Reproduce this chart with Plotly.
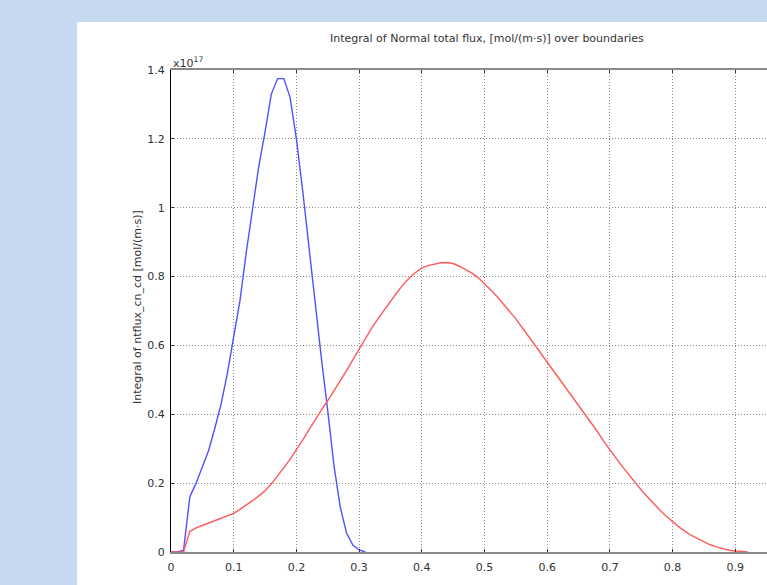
import plotly.graph_objects as go

# ---- data (values in units of 1e17 mol/(m·s)) ----
blue_t = [0.00, 0.01, 0.02, 0.03, 0.04, 0.05, 0.06, 0.07, 0.08, 0.09, 0.10,
          0.11, 0.12, 0.13, 0.14, 0.15, 0.16, 0.17, 0.18, 0.19, 0.20,
          0.21, 0.22, 0.23, 0.24, 0.25, 0.26, 0.27, 0.28, 0.29, 0.30, 0.31]
blue_v = [0.0, 0.0, 0.005, 0.16, 0.20, 0.245, 0.295, 0.36, 0.43, 0.52, 0.62,
          0.73, 0.87, 1.00, 1.12, 1.22, 1.33, 1.375, 1.375, 1.32, 1.20,
          1.05, 0.88, 0.72, 0.56, 0.41, 0.25, 0.13, 0.055, 0.02, 0.006, 0.0]

red_t = [0.00, 0.01, 0.02, 0.03, 0.04, 0.05, 0.06, 0.07, 0.08, 0.09,
         0.10, 0.11, 0.12, 0.13, 0.14, 0.15, 0.16, 0.17, 0.18, 0.19,
         0.20, 0.21, 0.22, 0.23, 0.24, 0.25, 0.26, 0.27, 0.28, 0.29,
         0.30, 0.31, 0.32, 0.33, 0.34, 0.35, 0.36, 0.37, 0.38, 0.39,
         0.40, 0.41, 0.42, 0.43, 0.44, 0.45, 0.46, 0.47, 0.48, 0.49,
         0.50, 0.51, 0.52, 0.53, 0.54, 0.55, 0.56, 0.57, 0.58, 0.59,
         0.60, 0.61, 0.62, 0.63, 0.64, 0.65, 0.66, 0.67, 0.68, 0.69,
         0.70, 0.71, 0.72, 0.73, 0.74, 0.75, 0.76, 0.77, 0.78, 0.79,
         0.80, 0.81, 0.82, 0.83, 0.84, 0.85, 0.86, 0.87, 0.88, 0.89,
         0.90, 0.91, 0.92]
red_v = [0.0, 0.0, 0.0, 0.06, 0.07, 0.077, 0.084, 0.09, 0.097, 0.104,
         0.112, 0.124, 0.136, 0.149, 0.163, 0.178, 0.198, 0.22, 0.245, 0.27,
         0.297, 0.325, 0.355, 0.385, 0.413, 0.44, 0.468, 0.497, 0.527, 0.558,
         0.59, 0.62, 0.65, 0.677, 0.703, 0.728, 0.753, 0.776, 0.796, 0.812,
         0.825, 0.832, 0.837, 0.84, 0.841, 0.838, 0.83, 0.821, 0.81, 0.797,
         0.78, 0.761, 0.742, 0.721, 0.70, 0.677, 0.652, 0.627, 0.602, 0.576,
         0.55, 0.525, 0.499, 0.474, 0.45, 0.425, 0.40, 0.375, 0.35, 0.322,
         0.296, 0.272, 0.248, 0.225, 0.202, 0.18, 0.16, 0.14, 0.121, 0.104,
         0.088, 0.073, 0.06, 0.048, 0.039, 0.03, 0.021, 0.015, 0.01, 0.005,
         0.003, 0.001, 0.0]

x_ticks = [0, 0.1, 0.2, 0.3, 0.4, 0.5, 0.6, 0.7, 0.8, 0.9]
x_ticklabels = ["0", "0.1", "0.2", "0.3", "0.4", "0.5", "0.6", "0.7", "0.8", "0.9"]
y_ticks = [0, 0.2, 0.4, 0.6, 0.8, 1.0, 1.2, 1.4]
y_ticklabels = ["0", "0.2", "0.4", "0.6", "0.8", "1", "1.2", "1.4"]

FONT = "DejaVu Sans"
TXT = "#333333"

fig = go.Figure()
fig.add_trace(go.Scatter(x=blue_t, y=blue_v, mode="lines",
                         line=dict(color="#5050ff", width=1.4), showlegend=False))
fig.add_trace(go.Scatter(x=red_t, y=red_v, mode="lines",
                         line=dict(color="#ff5a5a", width=1.4), showlegend=False))

L, T, B, W, H = 171, 70, 33, 767, 585
pw = W - L
ph = H - T - B

def px(xp):
    return (xp - L) / pw

def py(yp):
    return (H - B - yp) / ph

GRID = dict(showgrid=True, gridcolor="#8c8c8c", griddash="1px,2px", gridwidth=1,
            zeroline=False, showline=True, ticks="inside", ticklen=3,
            tickcolor="#333333", tickfont=dict(family=FONT, size=11, color=TXT))

fig.update_layout(
    width=W, height=H,
    margin=dict(l=L, r=0, t=T, b=B, pad=0),
    paper_bgcolor="#c6d9f1",
    plot_bgcolor="white",
    font=dict(family=FONT, size=11, color=TXT),
    hovermode=False,
    xaxis=dict(range=[0, pw / 627.0], tickvals=x_ticks, ticktext=x_ticklabels,
               linecolor="#8a8a8a", linewidth=2, mirror="ticks",
               ticklabelstandoff=4, **GRID),
    yaxis=dict(range=[0, 1.4], tickvals=y_ticks, ticktext=y_ticklabels,
               linecolor="black", linewidth=1, mirror=False,
               ticklabelstandoff=3, **GRID),
    shapes=[dict(type="rect", xref="paper", yref="paper", layer="below",
                 x0=px(77), x1=1.2, y0=-0.3, y1=py(22),
                 fillcolor="white", line=dict(width=0))],
    annotations=[
        dict(text="Integral of Normal total flux, [mol/(m·s)] over boundaries",
             xref="paper", yref="paper", x=px(487), y=py(38), showarrow=False,
             xanchor="center", yanchor="middle",
             font=dict(family=FONT, size=11, color=TXT)),
        dict(text="Time", xref="paper", yref="paper", x=px(484), y=py(590),
             showarrow=False, xanchor="center", yanchor="middle",
             font=dict(family=FONT, size=11, color=TXT)),
        dict(text="Integral of ntflux_cn_cd [mol/(m·s)]", xref="paper", yref="paper",
             x=px(137), y=py(307), textangle=-90, showarrow=False,
             xanchor="center", yanchor="middle",
             font=dict(family=FONT, size=11, color=TXT)),
        dict(text="x10<sup>17</sup>", xref="paper", yref="paper",
             x=px(171), y=py(72), showarrow=False,
             xanchor="left", yanchor="bottom",
             font=dict(family=FONT, size=11, color=TXT)),
    ],
)

fig.write_html("out.html", config={"displayModeBar": False},
               post_script="document.body.style.margin='0';"
                           "document.body.style.overflow='hidden';"
                           "document.body.style.background='#c6d9f1';")
